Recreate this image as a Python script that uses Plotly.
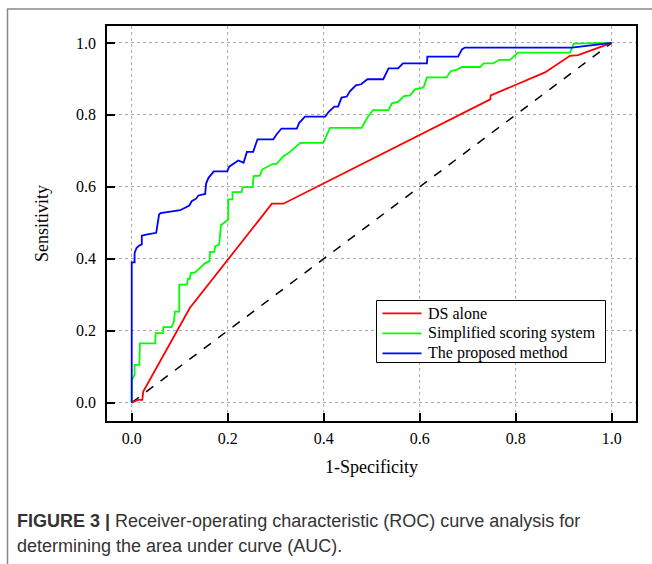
import plotly.graph_objects as go

# ---- data ----
ds_fpr = [0, 0.014, 0.022, 0.024, 0.121, 0.292, 0.316, 0.747, 0.748, 0.861, 0.913, 0.930, 1.0]
ds_tpr = [0, 0.008, 0.008, 0.031, 0.263, 0.553, 0.553, 0.843, 0.854, 0.918, 0.964, 0.966, 1.0]

ss_fpr = [0, 0, 0.006, 0.006, 0.016, 0.017, 0.049, 0.050, 0.065, 0.066, 0.083, 0.088, 0.090, 0.099,
          0.099, 0.115, 0.117, 0.121, 0.123, 0.132, 0.153, 0.162, 0.163, 0.172, 0.174, 0.182, 0.186,
          0.194, 0.201, 0.201, 0.210, 0.210, 0.229, 0.231, 0.252, 0.254, 0.267, 0.272, 0.294, 0.302,
          0.316, 0.326, 0.351, 0.399, 0.413, 0.479, 0.493, 0.503, 0.535, 0.542, 0.555, 0.567, 0.580,
          0.590, 0.608, 0.615, 0.656, 0.665, 0.677, 0.688, 0.726, 0.733, 0.753, 0.766, 0.788, 0.805,
          0.913, 0.921, 1.0]
ss_tpr = [0, 0.063, 0.077, 0.105, 0.105, 0.165, 0.165, 0.193, 0.193, 0.210, 0.210, 0.226, 0.253, 0.253,
          0.328, 0.328, 0.344, 0.344, 0.360, 0.362, 0.388, 0.393, 0.419, 0.419, 0.435, 0.439, 0.493,
          0.501, 0.509, 0.565, 0.565, 0.585, 0.585, 0.599, 0.599, 0.630, 0.631, 0.648, 0.664, 0.664,
          0.685, 0.693, 0.722, 0.722, 0.764, 0.764, 0.797, 0.813, 0.813, 0.832, 0.836, 0.852, 0.854,
          0.871, 0.876, 0.904, 0.904, 0.922, 0.925, 0.933, 0.933, 0.943, 0.943, 0.953, 0.953, 0.973,
          0.973, 0.998, 1.0]

pm_fpr = [0, 0, 0.006, 0.006, 0.010, 0.015, 0.021, 0.021, 0.030, 0.051, 0.057, 0.060, 0.101, 0.106,
          0.120, 0.125, 0.134, 0.139, 0.153, 0.155, 0.160, 0.171, 0.199, 0.203, 0.215, 0.222, 0.233,
          0.240, 0.253, 0.262, 0.295, 0.302, 0.312, 0.344, 0.349, 0.361, 0.403, 0.410, 0.422, 0.430,
          0.437, 0.448, 0.455, 0.467, 0.478, 0.491, 0.524, 0.535, 0.555, 0.565, 0.615, 0.616, 0.680,
          0.688, 0.694, 0.917, 1.0]
pm_tpr = [0, 0.390, 0.390, 0.416, 0.430, 0.436, 0.440, 0.464, 0.467, 0.472, 0.523, 0.527, 0.535, 0.539,
          0.548, 0.560, 0.567, 0.576, 0.580, 0.609, 0.625, 0.643, 0.643, 0.656, 0.667, 0.673, 0.667,
          0.697, 0.697, 0.732, 0.732, 0.746, 0.762, 0.762, 0.778, 0.795, 0.795, 0.808, 0.823, 0.823,
          0.848, 0.851, 0.866, 0.882, 0.885, 0.899, 0.899, 0.929, 0.929, 0.943, 0.943, 0.962, 0.962,
          0.982, 0.987, 0.987, 1.0]

ref_x = [0, 1]
ref_y = [0, 1]

tick_vals = [0.0, 0.2, 0.4, 0.6, 0.8, 1.0]
tick_text = ["0.0", "0.2", "0.4", "0.6", "0.8", "1.0"]

series_names = ["DS alone", "Simplified scoring system", "The proposed method"]
series_colors = ["#ff0000", "#00ff00", "#0000ff"]

serif = "Liberation Serif, Times New Roman, serif"
sans = "Liberation Sans, Arial, sans-serif"

# plot area in page pixels
PL, PR, PT, PB = 107, 636, 26, 421
W, H = 652, 564


def px(xp):
    return (xp - PL) / (PR - PL)


def py(yp):
    return (PB - yp) / (PB - PT)


fig = go.Figure()
fig.add_trace(go.Scatter(x=ref_x, y=ref_y, mode="lines", showlegend=False,
                         line=dict(color="black", width=1.5, dash="dash"), hoverinfo="skip"))
for xs, ys, nm, col in zip([ds_fpr, ss_fpr, pm_fpr], [ds_tpr, ss_tpr, pm_tpr], series_names, series_colors):
    fig.add_trace(go.Scatter(x=xs, y=ys, mode="lines", name=nm, showlegend=False,
                             line=dict(color=col, width=1.8)))

axis_common = dict(
    showline=True, linecolor="black", linewidth=1.5, mirror=True,
    ticks="inside", ticklen=8, tickwidth=1.5, tickcolor="black",
    showgrid=True, gridcolor="#aaaaaa", griddash="dot", gridwidth=1,
    zeroline=False, tickvals=tick_vals, ticktext=tick_text,
    tickfont=dict(family=serif, size=16, color="black"),
)

fig.update_xaxes(range=[-0.0515, 1.0506], ticklabelstandoff=2,
                 title=dict(text="1-Specificity", font=dict(family=serif, size=18, color="black"), standoff=14),
                 **axis_common)
fig.update_yaxes(range=[-0.051, 1.047], ticklabelstandoff=6,
                 title=dict(text="Sensitivity", font=dict(family=serif, size=18, color="black"), standoff=23),
                 **axis_common)

# outer gray frame of the figure panel (left and top edges visible)
fig.add_shape(type="rect", xref="paper", yref="paper",
              x0=px(7.5), x1=px(W + 20), y0=py(H + 20), y1=py(9),
              line=dict(color="#888888", width=1.5), layer="below")

# legend box (drawn manually to match spacing)
fig.add_shape(type="rect", xref="paper", yref="paper",
              x0=px(376.5), x1=px(605.5), y0=py(362.5), y1=py(300.5),
              line=dict(color="black", width=1), fillcolor="white", layer="above")
for i, (nm, col) in enumerate(zip(series_names, series_colors)):
    yy = 313.3 + 20 * i
    fig.add_shape(type="line", xref="paper", yref="paper",
                  x0=px(382.5), x1=px(421.5), y0=py(yy), y1=py(yy),
                  line=dict(color=col, width=1.8), layer="above")
    fig.add_annotation(xref="paper", yref="paper", x=px(425.5), y=py(yy),
                       xanchor="left", yanchor="middle", showarrow=False,
                       text=nm, font=dict(family=serif, size=16, color="black"))

fig.add_annotation(xref="paper", yref="paper", x=px(15), y=py(521),
                   xanchor="left", yanchor="middle", showarrow=False, align="left",
                   text="<b>FIGURE 3 |</b> Receiver-operating characteristic (ROC) curve analysis for",
                   font=dict(family=sans, size=18, color="#333333"))
fig.add_annotation(xref="paper", yref="paper", x=px(15), y=py(546),
                   xanchor="left", yanchor="middle", showarrow=False, align="left",
                   text="determining the area under curve (AUC).",
                   font=dict(family=sans, size=18, color="#333333"))

fig.update_layout(
    width=W, height=H,
    margin=dict(l=PL, r=W - PR, t=PT, b=H - PB),
    paper_bgcolor="white", plot_bgcolor="white",
    showlegend=False,
)

fig.write_html("out.html", config={"displayModeBar": False},
               post_script="document.body.style.margin='0';")
